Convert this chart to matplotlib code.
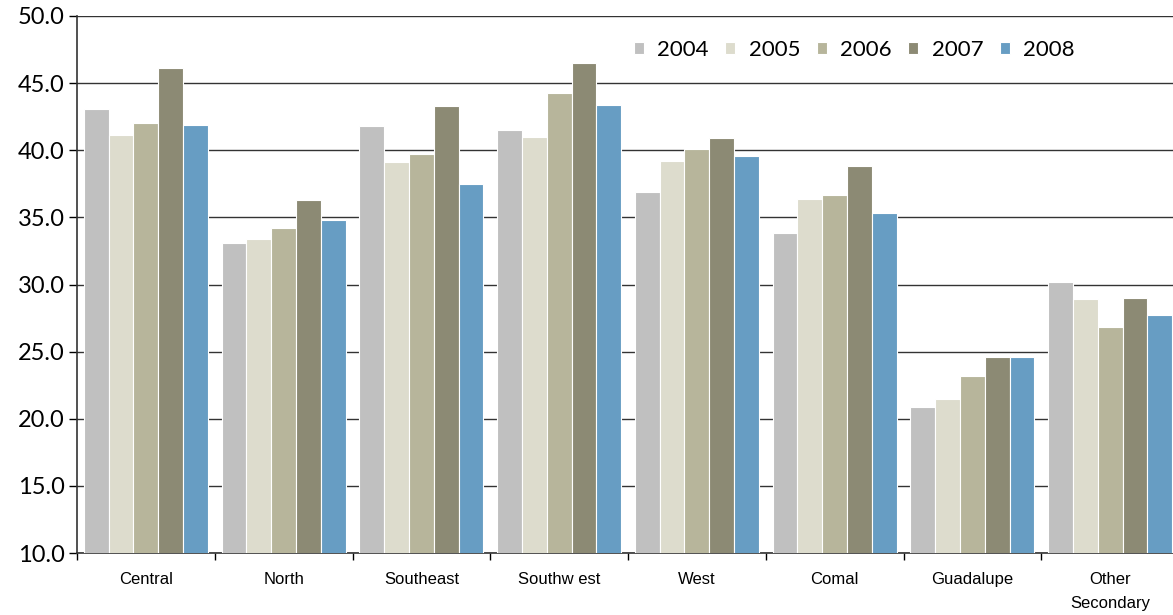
import numpy as np
import matplotlib.pyplot as plt

regions = ['Central', 'North', 'Southeast', 'Southw est', 'West', 'Comal',
           'Guadalupe', 'Other\nSecondary']
years = ['2004', '2005', '2006', '2007', '2008']
v2004 = [43.1, 33.1, 41.8, 41.5, 36.9, 33.8, 20.9, 30.2]
v2005 = [41.1, 33.4, 39.1, 41.0, 39.2, 36.4, 21.5, 28.9]
v2006 = [42.0, 34.2, 39.7, 44.3, 40.1, 36.7, 23.2, 26.8]
v2007 = [46.1, 36.3, 43.3, 46.5, 40.9, 38.8, 24.6, 29.0]
v2008 = [41.9, 34.8, 37.5, 43.4, 39.6, 35.3, 24.6, 27.7]
series = [v2004, v2005, v2006, v2007, v2008]
colors = ['#C0C0C0', '#DDDCCD', '#B7B59B', '#8C8A74', '#679DC3']

fig = plt.figure(figsize=(11.73, 6.15), dpi=100)
# axes runs slightly past the right edge, like the original
ax = fig.add_axes([77 / 1173, 62 / 615, 1102 / 1173, 537 / 615])

x = np.arange(len(regions))
width = 0.18
for i, (vals, c, yr) in enumerate(zip(series, colors, years)):
  ax.bar(x + (i - 2) * width, vals, width, color=c, edgecolor='white',
         linewidth=0.8, label=yr, zorder=3)

ax.set_ylim(10, 50)
ax.set_xlim(-0.5, len(regions) - 0.5)
ax.set_yticks(np.arange(10, 50.1, 5))
ax.set_yticklabels([f'{t:.1f}' for t in np.arange(10, 50.1, 5)],
                   fontsize=17, family='Lato')
ax.yaxis.grid(True, color='#333333', linewidth=1, zorder=0)
ax.tick_params(axis='y', length=6, width=1, direction='out', pad=3)

ax.set_xticks(x)
ax.set_xticklabels(regions, fontsize=12, family='Liberation Sans',
                   linespacing=1.75)
ax.set_xticks(np.arange(-0.5, len(regions)), minor=True)
ax.tick_params(axis='x', which='major', length=0, pad=14)
ax.tick_params(axis='x', which='minor', length=5, width=1)

for s in ['top', 'right']:
  ax.spines[s].set_visible(False)
for s in ['left', 'bottom']:
  ax.spines[s].set_color('#333333')
  ax.spines[s].set_linewidth(1.2)

ax.legend(ncol=5, frameon=False, loc='upper left',
          bbox_to_anchor=(0.487, 0.993), prop={'family': 'Lato', 'size': 16},
          handlelength=0.45, handleheight=0.45, handletextpad=0.6,
          columnspacing=0.75)

fig.savefig('out.png', dpi=100)
